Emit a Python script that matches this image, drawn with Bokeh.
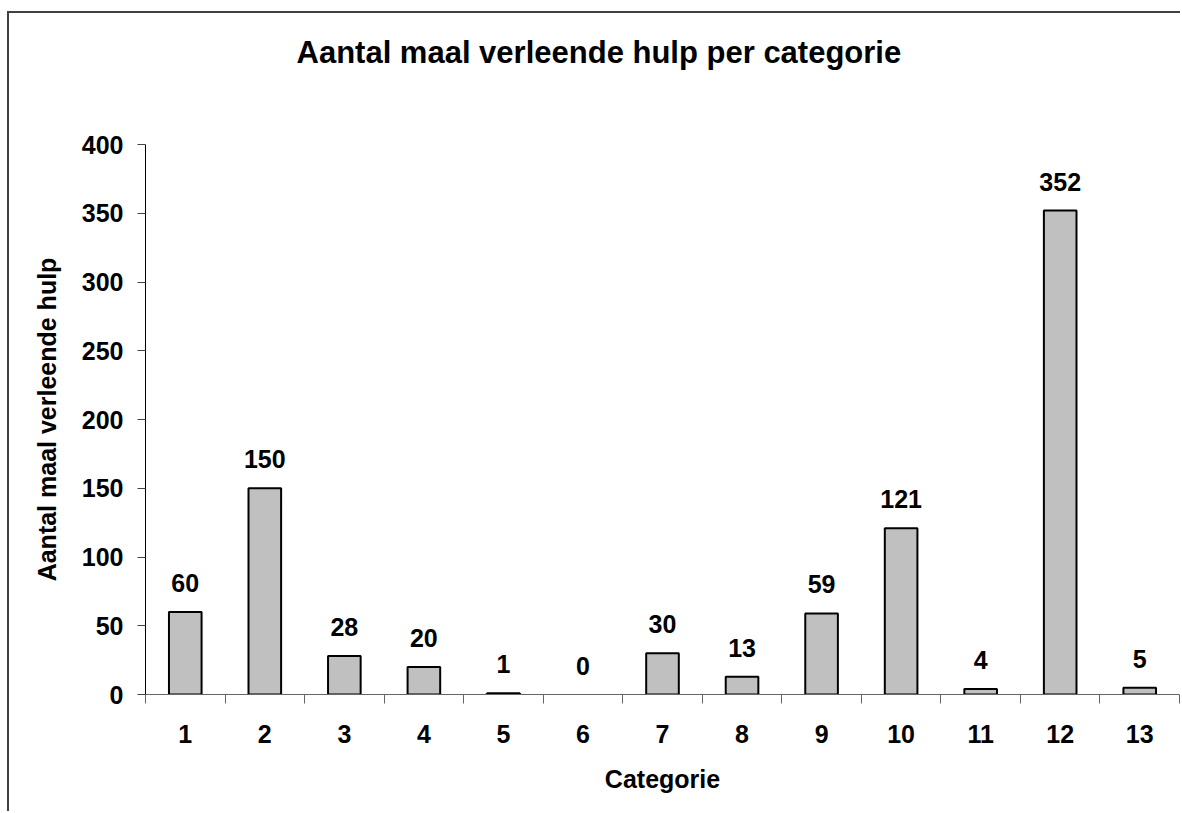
from bokeh.plotting import figure
from bokeh.models import (ColumnDataSource, LabelSet, FixedTicker,
                          SingleIntervalTicker, Range1d)
from bokeh.core.properties import value
from bokeh.embed import file_html
from bokeh.resources import INLINE

# ---- data ----
categories = ["1", "2", "3", "4", "5", "6", "7", "8", "9", "10", "11", "12", "13"]
values = [60, 150, 28, 20, 1, 0, 30, 13, 59, 121, 4, 352, 5]
title_text = "Aantal maal verleende hulp per categorie"
x_label = "Categorie"
y_label = "Aantal maal verleende hulp"

FONT = "Liberation Sans"

xpos = list(range(1, len(categories) + 1))
src = ColumnDataSource(dict(
    x=xpos,
    top=values,
    lab=[str(v) for v in values],
    la=[0 if v == 0 else 1 for v in values],
))

p = figure(width=1173, height=800, output_backend="svg", toolbar_location=None,
           x_range=Range1d(0.5, 13.5), y_range=Range1d(0, 400),
           min_border_left=136, min_border_right=3,
           min_border_top=131, min_border_bottom=119)
p.margin = (11, 0, 0, 7)
p.styles = {"border-left": "2px solid #404040", "border-top": "2px solid #404040"}
p.outline_line_color = None
p.xgrid.grid_line_color = None
p.ygrid.grid_line_color = None
p.background_fill_color = "white"
p.border_fill_color = "white"

# title (two trailing empty lines lift it away from the plot area)
p.title.text = title_text + "\n\n"
p.title.text_font = FONT
p.title.text_font_style = "bold"
p.title.text_font_size = "31px"
p.title.text_color = "black"
p.title.text_line_height = 1.0
p.title.align = "left"
p.title.offset = 151
p.title.standoff = 10

p.vbar(x="x", top="top", width=0.41, source=src, fill_color="#C0C0C0",
       line_color="black", line_width=2, line_alpha="la")

labels = LabelSet(x="x", y="top", text="lab", source=src, text_align="center",
                  text_baseline="alphabetic", y_offset=20, text_font=value(FONT),
                  text_font_style="bold", text_font_size="25px", text_color="black")
p.add_layout(labels)

# x axis
xa = p.xaxis[0]
xa.ticker = FixedTicker(ticks=xpos, minor_ticks=[i + 0.5 for i in range(0, len(categories) + 1)])
xa.major_label_overrides = {i: c for i, c in zip(xpos, categories)}
xa.major_tick_out = 0
xa.major_tick_in = 0
xa.minor_tick_out = 9
xa.minor_tick_in = 0
xa.minor_tick_line_color = "#666666"
xa.axis_line_color = "#666666"
xa.major_label_standoff = 21
xa.major_label_text_font = FONT
xa.major_label_text_font_style = "bold"
xa.major_label_text_font_size = "25px"
xa.major_label_text_color = "black"
xa.axis_label = x_label
xa.axis_label_text_font = FONT
xa.axis_label_text_font_style = "bold"
xa.axis_label_text_font_size = "25px"
xa.axis_label_text_color = "black"
xa.axis_label_standoff = 19

# y axis
ya = p.yaxis[0]
ya.ticker = SingleIntervalTicker(interval=50, num_minor_ticks=0)
ya.major_tick_out = 8
ya.major_tick_in = 0
ya.minor_tick_line_color = None
ya.axis_line_color = "black"
ya.major_tick_line_color = "#444444"
ya.major_label_standoff = 14
ya.major_label_text_font = FONT
ya.major_label_text_font_style = "bold"
ya.major_label_text_font_size = "25px"
ya.major_label_text_color = "black"
ya.axis_label = y_label
ya.axis_label_text_font = FONT
ya.axis_label_text_font_style = "bold"
ya.axis_label_text_font_size = "25px"
ya.axis_label_text_color = "black"
ya.axis_label_standoff = 18

open("out.html", "w").write(file_html(p, INLINE))
